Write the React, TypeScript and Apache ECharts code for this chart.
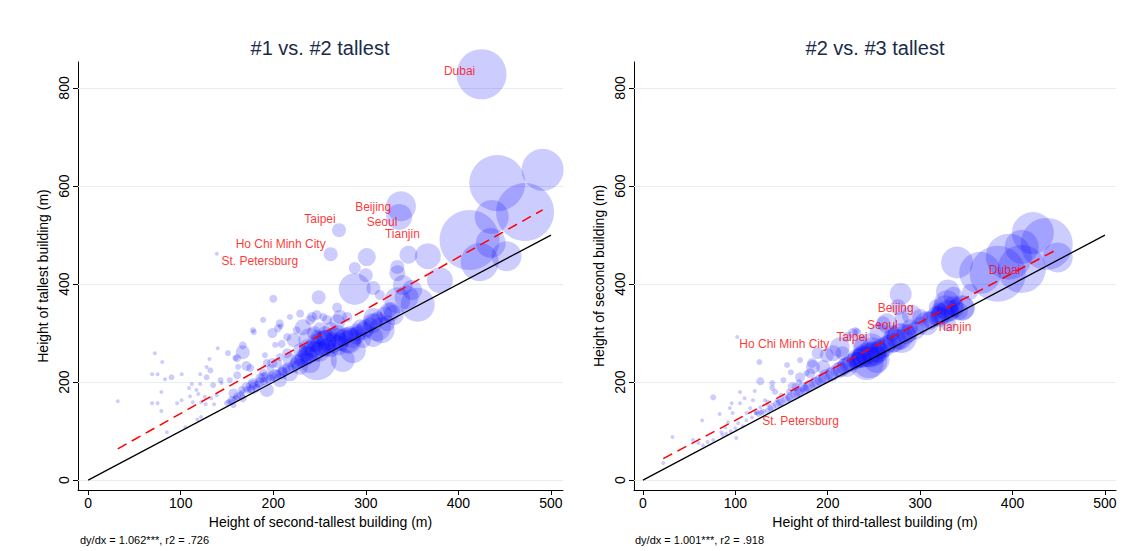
import React, { useEffect, useRef } from "react";
import * as echarts from "echarts";

// Axis tick values shared by both panels
const xTicks = [0, 100, 200, 300, 400, 500];
const yTicks = [0, 200, 400, 600, 800];

// Panel 1: [height of second-tallest (m), height of tallest (m), city weight]
const panel1Points: [number, number, number][] = [
  [425, 828, 625], [442, 606, 784], [491, 633, 441], [472, 547, 841], [412, 490, 900],
  [436, 537, 289], [423, 445, 361], [435, 484, 225], [452, 457, 225], [338, 559, 225],
  [336, 537, 169], [367, 457, 169], [346, 460, 81], [380, 408, 169], [356, 358, 289],
  [334, 422, 64], [334, 435, 49], [340, 398, 100], [344, 373, 144], [326, 343, 100],
  [312, 312, 196], [271, 510, 49], [262, 461, 49], [301, 455, 81], [288, 433, 36],
  [300, 418, 49], [288, 390, 256], [308, 392, 49], [249, 373, 49], [334, 367, 169],
  [350, 388, 100], [139, 462, 4], [200, 370, 16], [269, 352, 25], [272, 333, 49],
  [247, 337, 25], [218, 333, 9], [229, 340, 16], [232, 312, 64], [240, 286, 144],
  [254, 279, 169], [247, 245, 400], [280, 286, 169], [286, 265, 169], [275, 245, 144],
  [290, 306, 49], [307, 320, 100], [317, 306, 169], [315, 378, 25], [207, 320, 16],
  [205, 310, 16], [199, 300, 25], [178, 306, 9], [167, 261, 49], [171, 233, 25],
  [161, 249, 16], [161, 214, 16], [189, 210, 25], [199, 239, 25], [207, 251, 16],
  [218, 245, 49], [222, 286, 49], [215, 292, 16], [225, 306, 16], [207, 204, 49],
  [218, 218, 64], [229, 231, 64], [240, 239, 100], [178, 190, 49], [193, 184, 49],
  [157, 177, 25], [143, 204, 9], [132, 224, 9], [128, 210, 9], [135, 194, 9],
  [229, 265, 49], [236, 271, 64], [258, 286, 100], [263, 265, 49], [297, 286, 64],
  [308, 292, 100], [323, 320, 64], [330, 337, 100], [240, 327, 25], [258, 327, 25],
  [280, 333, 25], [242, 333, 25], [254, 333, 16], [269, 322, 64], [294, 312, 64],
  [308, 331, 100], [326, 347, 49], [189, 327, 9], [32, 161, 4], [72, 259, 4],
  [80, 241, 4], [69, 216, 4], [75, 216, 4], [90, 210, 9], [83, 206, 4],
  [101, 216, 4], [121, 216, 4], [128, 231, 4], [131, 247, 4], [140, 269, 4],
  [79, 180, 4], [69, 157, 4], [75, 157, 4], [79, 141, 4], [85, 98, 4],
  [96, 157, 4], [101, 163, 4], [109, 188, 4], [112, 196, 4], [117, 184, 4],
  [119, 176, 4], [110, 171, 4], [113, 159, 4], [121, 196, 4], [126, 170, 4],
  [122, 159, 4], [127, 155, 4], [133, 167, 4], [136, 155, 4], [144, 198, 4],
  [139, 173, 4], [118, 124, 4], [122, 129, 4], [105, 108, 4], [151, 259, 9],
  [159, 249, 9], [167, 275, 16], [179, 302, 9], [208, 314, 9], [202, 276, 9],
  [209, 278, 16], [191, 255, 9], [193, 239, 16], [153, 204, 9], [150, 157, 9],
  [155, 163, 16], [161, 171, 16], [166, 184, 16], [171, 190, 25], [178, 198, 25],
  [186, 208, 25], [193, 210, 36], [202, 214, 36], [209, 218, 36], [182, 188, 16],
  [167, 167, 16], [157, 153, 9], [189, 220, 16], [197, 229, 16], [204, 239, 25],
  [215, 259, 25], [175, 229, 16], [162, 231, 9], [245, 262, 100], [252, 270, 81],
  [260, 275, 64], [238, 255, 81], [268, 290, 100], [275, 290, 81], [283, 298, 64],
  [290, 295, 81], [232, 250, 64], [226, 242, 49], [222, 232, 36], [212, 225, 36],
  [198, 212, 25], [185, 200, 25], [176, 186, 16], [165, 173, 16], [158, 166, 9],
  [152, 160, 9], [300, 310, 81], [305, 318, 49], [313, 330, 49], [320, 338, 64],
  [256, 300, 49], [262, 306, 64], [248, 292, 49], [282, 282, 144], [270, 275, 100],
  [235, 258, 64], [242, 268, 81], [250, 262, 100], [258, 270, 81], [265, 280, 100],
  [272, 282, 81], [278, 295, 64], [285, 290, 100], [292, 300, 64], [298, 305, 81],
  [230, 245, 49], [236, 248, 49], [224, 238, 36], [216, 228, 36], [210, 222, 25],
  [204, 216, 25], [196, 206, 25], [190, 202, 16], [184, 196, 16], [178, 192, 16],
  [172, 184, 16], [166, 178, 9], [160, 168, 9], [155, 160, 9], [246, 280, 81],
  [255, 290, 64], [262, 296, 49], [270, 300, 64], [244, 300, 49], [250, 310, 36],
];

// Panel 2: [height of third-tallest (m), height of second-tallest (m), city weight]
const panel2Points: [number, number, number][] = [
  [340, 444, 256], [365, 423, 441], [384, 421, 784], [396, 456, 529], [410, 431, 576],
  [422, 504, 441], [437, 482, 676], [449, 454, 225], [410, 476, 289], [329, 361, 169],
  [346, 351, 144], [321, 347, 64], [279, 380, 121], [276, 353, 64], [330, 385, 144],
  [327, 353, 144], [345, 351, 169], [321, 333, 100], [334, 341, 64], [307, 320, 144],
  [300, 333, 64], [289, 312, 64], [278, 292, 169], [264, 320, 100], [256, 300, 100],
  [246, 265, 289], [242, 239, 289], [291, 337, 100], [336, 374, 100], [318, 353, 64],
  [354, 384, 64], [249, 265, 169], [253, 245, 169], [235, 280, 64], [227, 300, 25],
  [232, 302, 16], [221, 292, 25], [213, 271, 100], [206, 259, 64], [199, 255, 49],
  [189, 259, 36], [184, 231, 49], [195, 231, 49], [156, 235, 9], [152, 204, 9],
  [170, 210, 25], [181, 218, 25], [162, 190, 25], [173, 190, 25], [221, 231, 100],
  [232, 245, 64], [216, 259, 49], [22, 35, 4], [32, 88, 4], [54, 82, 4],
  [60, 76, 4], [64, 122, 4], [65, 71, 4], [70, 78, 4], [76, 82, 4],
  [76, 169, 9], [83, 135, 4], [85, 98, 4], [89, 108, 4], [92, 118, 4],
  [94, 147, 4], [96, 157, 4], [97, 137, 4], [101, 86, 4], [103, 116, 4],
  [105, 180, 4], [102, 292, 4], [127, 202, 16], [126, 241, 9], [121, 182, 4],
  [119, 163, 4], [110, 167, 4], [105, 157, 4], [116, 147, 4], [112, 137, 4],
  [122, 137, 4], [127, 149, 4], [132, 163, 4], [135, 153, 4], [140, 198, 9],
  [143, 180, 9], [145, 163, 4], [160, 220, 9], [169, 200, 9], [177, 218, 9],
  [183, 239, 25], [170, 245, 9], [140, 188, 9], [230, 304, 16], [280, 290, 225],
  [245, 245, 324], [260, 320, 49], [123, 139, 9], [125, 135, 9], [130, 140, 9],
  [135, 142, 9], [140, 150, 16], [145, 155, 16], [150, 160, 16], [155, 165, 16],
  [160, 170, 25], [165, 176, 25], [170, 180, 25], [175, 185, 25], [180, 192, 36],
  [186, 198, 36], [192, 205, 36], [198, 212, 49], [205, 218, 49], [212, 225, 64],
  [218, 232, 64], [225, 240, 81], [232, 248, 100], [238, 252, 121], [250, 258, 144],
  [258, 268, 100], [265, 278, 81], [272, 285, 144], [285, 298, 100], [295, 305, 81],
  [310, 325, 81], [318, 335, 100], [325, 340, 121], [338, 350, 81], [150, 172, 9],
  [158, 180, 9], [165, 190, 16], [135, 160, 4], [118, 128, 4], [112, 122, 4],
  [108, 110, 4], [100, 106, 4], [95, 100, 4], [90, 95, 4], [86, 92, 4],
  [270, 300, 64], [280, 330, 49], [330, 320, 64], [248, 273, 36],
  [128, 138, 9], [138, 146, 9], [148, 158, 16], [158, 168, 16], [168, 178, 25],
  [178, 188, 25], [188, 200, 36], [196, 208, 36], [204, 215, 49], [214, 226, 64],
  [222, 236, 64], [230, 244, 81], [236, 250, 100], [244, 255, 144], [255, 262, 121],
  [262, 272, 100], [270, 280, 100], [278, 288, 100], [288, 300, 81], [300, 315, 81],
  [312, 328, 81], [322, 338, 100], [330, 345, 121], [336, 355, 100], [342, 345, 81],
];

// Named cities: coordinates in each panel
const cityNames = ["Dubai", "Taipei", "Beijing", "Seoul", "Tianjin", "Ho Chi Minh City", "St. Petersburg"];
const cityPanel1: [number, number][] = [[425, 828], [271, 510], [336, 537], [338, 559], [346, 460], [262, 461], [139, 462]];
const cityPanel2: [number, number][] = [[413, 425], [248, 273], [280, 330], [270, 300], [330, 320], [205, 262], [123, 139]];

// Label placement (pixel offsets from each city's point)
const labelOffset1: [number, number][] = [[-22, -3], [-19, -11], [-26, -10], [-19, 16], [-6, -21], [-50, -10], [43, 7]];
const labelOffset2: [number, number][] = [[-20, -2], [-20, -9], [-6, -10], [-10, -8], [6, 4], [-48, -8], [44, 9]];

// Linear fits: slope (dy/dx), intercept, and x-range of the data
const fit1 = { slope: 1.062, intercept: 30, from: 32, to: 491 };
const fit2 = { slope: 1.001, intercept: 22, from: 22, to: 449 };
const fitNotes = ["dy/dx = 1.062***, r2 = .726", "dy/dx = 1.001***, r2 = .918"];

const titles = ["#1 vs. #2 tallest", "#2 vs. #3 tallest"];
const xNames = ["Height of second-tallest building (m)", "Height of third-tallest building (m)"];
const yNames = ["Height of tallest building (m)", "Height of second building (m)"];

const FONT = "'Liberation Sans', Arial, Helvetica, sans-serif";

function fitLine(f: { slope: number; intercept: number; from: number; to: number }) {
  return [
    [f.from, f.intercept + f.slope * f.from],
    [f.to, f.intercept + f.slope * f.to],
  ];
}

function axes(i: number, xmin: number, xmax: number) {
  const xAxis = {
    gridIndex: i,
    type: "value",
    min: xmin,
    max: xmax,
    name: xNames[i],
    nameLocation: "middle",
    nameGap: 24,
    nameTextStyle: { fontSize: 14, color: "#000", fontFamily: FONT },
    axisLine: { show: true, onZero: false, lineStyle: { color: "#000", width: 1 } },
    axisTick: { show: true, customValues: xTicks, length: 5, lineStyle: { color: "#000" } },
    axisLabel: { customValues: xTicks, fontSize: 14, color: "#000", margin: 6, fontFamily: FONT },
    splitLine: { show: false },
  };
  const yAxis = {
    gridIndex: i,
    type: "value",
    min: -20,
    max: 853,
    name: yNames[i],
    nameLocation: "middle",
    nameGap: 28,
    nameRotate: 90,
    nameTextStyle: { fontSize: 14, color: "#000", fontFamily: FONT },
    axisLine: { show: true, onZero: false, lineStyle: { color: "#000", width: 1 } },
    axisTick: { show: true, customValues: yTicks, length: 5, lineStyle: { color: "#000" } },
    axisLabel: { customValues: yTicks, rotate: 90, fontSize: 14, color: "#000", margin: 7, fontFamily: FONT },
    splitLine: { show: false },
  };
  return { xAxis, yAxis };
}

function panelSeries(
  i: number,
  points: [number, number, number][],
  cities: [number, number][],
  offsets: [number, number][],
  fit: { slope: number; intercept: number; from: number; to: number }
) {
  return [
    {
      type: "scatter",
      xAxisIndex: i,
      yAxisIndex: i,
      z: 2,
      silent: true,
      data: points,
      symbolSize: (v: number[]) => 2 * Math.sqrt(v[2]),
      itemStyle: { color: "rgba(0,0,255,0.25)", borderWidth: 0 },
      markLine: {
        silent: true,
        z: 1,
        symbol: "none",
        label: { show: false },
        lineStyle: { color: "#e6eef0", width: 1, type: "solid" },
        data: yTicks.map((v) => ({ yAxis: v })),
      },
    },
    {
      type: "line",
      xAxisIndex: i,
      yAxisIndex: i,
      z: 3,
      silent: true,
      showSymbol: false,
      symbol: "none",
      data: [[0, 0], [500, 500]],
      lineStyle: { color: "#000", width: 1.3 },
    },
    {
      type: "line",
      xAxisIndex: i,
      yAxisIndex: i,
      z: 3,
      silent: true,
      showSymbol: false,
      symbol: "none",
      data: fitLine(fit),
      lineStyle: { color: "#ff0000", width: 1.5, type: [10, 6] },
    },
    {
      type: "scatter",
      xAxisIndex: i,
      yAxisIndex: i,
      z: 4,
      silent: true,
      symbolSize: 0,
      data: cities.map((c, k) => ({
        name: cityNames[k],
        value: c,
        label: { offset: offsets[k] },
      })),
      label: {
        show: true,
        position: "inside",
        formatter: "{b}",
        color: "#ff0000",
        fontSize: 12,
        fontFamily: FONT,
      },
    },
  ];
}

export default function App() {
  const ref = useRef<HTMLDivElement>(null);

  useEffect(() => {
    if (!ref.current) return;
    const chart = echarts.init(ref.current, undefined, { renderer: "svg" });
    const a0 = axes(0, -11, 513);
    const a1 = axes(1, -9.7, 512);
    chart.setOption({
      animation: false,
      backgroundColor: "#ffffff",
      grid: [
        { left: 78, top: 62, width: 485, height: 428 },
        { left: 634, top: 62, width: 482, height: 428 },
      ],
      xAxis: [a0.xAxis, a1.xAxis],
      yAxis: [a0.yAxis, a1.yAxis],
      series: [
        ...panelSeries(0, panel1Points, cityPanel1, labelOffset1, fit1),
        ...panelSeries(1, panel2Points, cityPanel2, labelOffset2, fit2),
      ],
      graphic: [
        {
          type: "text",
          x: 320,
          y: 48,
          style: { text: titles[0], fill: "#1a2a4a", font: `20px ${FONT}`, textAlign: "center", textVerticalAlign: "middle" },
        },
        {
          type: "text",
          x: 875,
          y: 48,
          style: { text: titles[1], fill: "#1a2a4a", font: `20px ${FONT}`, textAlign: "center", textVerticalAlign: "middle" },
        },
        {
          type: "text",
          x: 80,
          y: 540,
          style: { text: fitNotes[0], fill: "#000", font: `11px ${FONT}`, textAlign: "left", textVerticalAlign: "middle" },
        },
        {
          type: "text",
          x: 635,
          y: 540,
          style: { text: fitNotes[1], fill: "#000", font: `11px ${FONT}`, textAlign: "left", textVerticalAlign: "middle" },
        },
      ],
    });
    return () => chart.dispose();
  }, []);

  return (
    <div
      ref={ref}
      style={{ position: "fixed", left: 0, top: 0, width: 1124, height: 551, background: "#fff" }}
    />
  );
}
